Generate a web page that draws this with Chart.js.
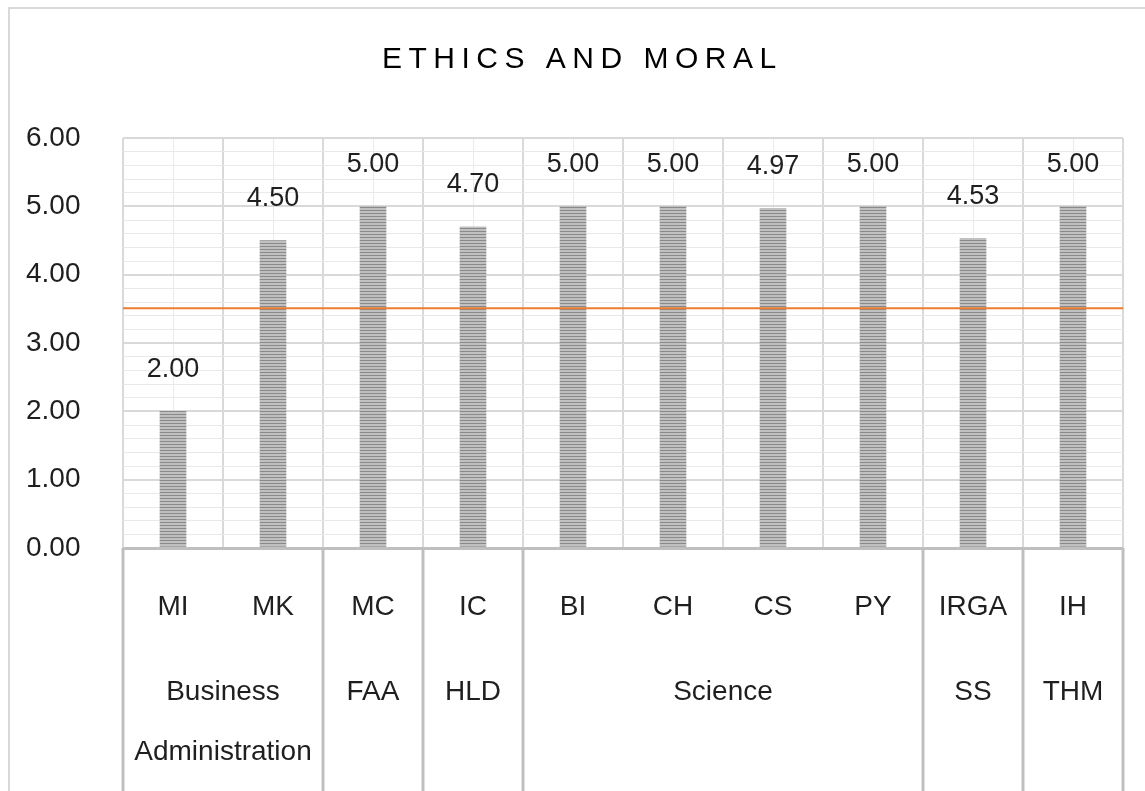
<!DOCTYPE html>
<html>
<head>
<meta charset="utf-8">
<script src="https://cdn.jsdelivr.net/npm/chart.js@4.4.0/dist/chart.umd.min.js"></script>
<style>
    html, body { margin: 0; padding: 0; background: #fff; overflow: hidden; }
    #frame { position: absolute; left: 8px; top: 7px; width: 1300px; height: 900px; border: 2px solid #d9d9d9; box-sizing: border-box; }
    #wrap { position: absolute; left: 0; top: 0; width: 1145px; height: 791px; }
</style>
</head>
<body>
<div id="frame"></div>
<div id="wrap"><canvas id="myChart"></canvas></div>
<script>
const chartTitle = 'ETHICS AND MORAL';
const programs = ['MI', 'MK', 'MC', 'IC', 'BI', 'CH', 'CS', 'PY', 'IRGA', 'IH'];
const scores = [2.00, 4.50, 5.00, 4.70, 5.00, 5.00, 4.97, 5.00, 4.53, 5.00];
const faculties = [['Business', 'Administration'], ['FAA'], ['HLD'], ['Science'], ['SS'], ['THM']];
const facultySpans = [2, 1, 1, 4, 1, 1];
const criterion = 3.51;
const yMax = 6;
const yMinorStep = 0.2;

const FONT = '"Liberation Sans", Arial, sans-serif';
const TEXT = '#1f1f1f';

document.addEventListener('DOMContentLoaded', () => {
    const ctx = document.getElementById('myChart').getContext('2d');

    // striped fill like the original bars
    const makeHatch = () => {
        const c = document.createElement('canvas');
        c.width = 4; c.height = 3;
        const g = c.getContext('2d');
        g.fillStyle = '#c0c0c0';
        g.fillRect(0, 0, 4, 3);
        g.fillStyle = '#8a8a8a';
        g.fillRect(0, 0, 4, 1);
        return g.createPattern(c, 'repeat');
    };

    const isMajor = v => Math.abs(v - Math.round(v)) < 1e-6;

    const decorations = {
        id: 'decorations',
        afterDraw(chart) {
            const c = chart.ctx;
            const area = chart.chartArea;
            const x = chart.scales.x;
            const y = chart.scales.y;
            const half = (x.getPixelForValue(1) - x.getPixelForValue(0)) / 2;

            // criterion line
            const ly = y.getPixelForValue(criterion);
            c.save();
            c.strokeStyle = '#ed7d31';
            c.lineWidth = 2;
            c.beginPath();
            c.moveTo(area.left, ly);
            c.lineTo(area.right, ly);
            c.stroke();

            // value labels
            c.fillStyle = TEXT;
            c.font = '27px ' + FONT;
            c.textAlign = 'center';
            c.textBaseline = 'middle';
            chart.getDatasetMeta(0).data.forEach((bar, i) => {
                c.fillText(scores[i].toFixed(2), bar.x, bar.y - 42);
            });

            // program labels
            c.font = '28px ' + FONT;
            programs.forEach((p, i) => {
                c.fillText(p, x.getPixelForValue(i), area.bottom + 59);
            });

            // faculty groups + separators
            c.strokeStyle = '#bfbfbf';
            c.lineWidth = 3;
            let idx = 0;
            const edge = i => x.getPixelForValue(i) - half;
            const drawSep = px => {
                c.beginPath();
                c.moveTo(px, area.bottom);
                c.lineTo(px, chart.height);
                c.stroke();
            };
            drawSep(edge(0));
            faculties.forEach((lines, g) => {
                const start = idx;
                idx += facultySpans[g];
                const cx = (edge(start) + edge(idx)) / 2;
                lines.forEach((t, k) => c.fillText(t, cx, area.bottom + 144 + k * 60));
                drawSep(edge(idx));
            });

            // title
            c.fillStyle = '#000';
            c.font = '30px ' + FONT;
            c.letterSpacing = '6.5px';
            c.textAlign = 'left';
            c.fillText(chartTitle, 382, 60);
            c.restore();
        }
    };

    new Chart(ctx, {
        type: 'bar',
        data: {
            labels: programs,
            datasets: [{
                data: scores,
                backgroundColor: makeHatch(),
                barThickness: 26,
                xAxisID: 'x',
                yAxisID: 'y'
            }]
        },
        options: {
            responsive: true,
            maintainAspectRatio: false,
            animation: false,
            layout: { padding: { top: 138, left: 26, right: 22, bottom: 243 } },
            plugins: { legend: { display: false }, tooltip: { enabled: false } },
            scales: {
                x: {
                    offset: true,
                    grid: { offset: true, color: '#d9d9d9', lineWidth: 2, drawTicks: false },
                    border: { display: false },
                    ticks: { display: false }
                },
                xMid: {
                    type: 'category',
                    labels: programs,
                    position: 'bottom',
                    offset: true,
                    grid: { offset: false, color: '#ebebeb', lineWidth: 1, drawTicks: false },
                    border: { display: false },
                    ticks: { display: false }
                },
                y: {
                    min: 0,
                    max: yMax,
                    border: { display: false },
                    grid: {
                        drawTicks: false,
                        color: c => c.tick && c.tick.value === 0 ? '#bfbfbf' : (isMajor(c.tick ? c.tick.value : 0) ? '#d9d9d9' : '#e9e9e9'),
                        lineWidth: c => c.tick && c.tick.value === 0 ? 3 : (isMajor(c.tick ? c.tick.value : 0) ? 2 : 1)
                    },
                    ticks: {
                        stepSize: yMinorStep,
                        autoSkip: false,
                        crossAlign: 'far',
                        color: TEXT,
                        font: { family: FONT, size: 28 },
                        callback: v => isMajor(v) ? Number(v).toFixed(2) : ''
                    },
                    afterFit(scale) { scale.width = 97; }
                }
            }
        },
        plugins: [decorations]
    });
});
</script>
</body>
</html>
